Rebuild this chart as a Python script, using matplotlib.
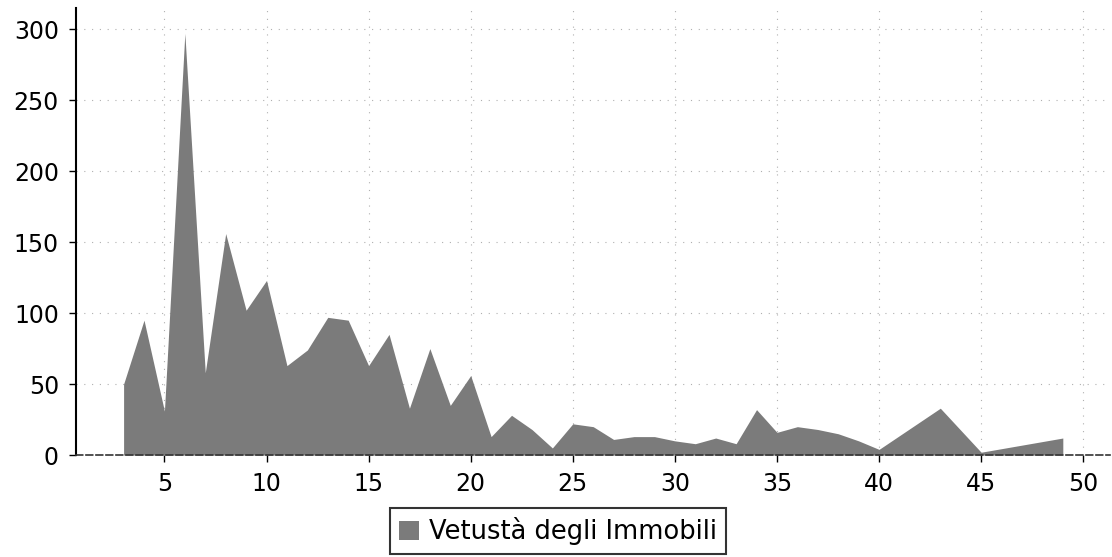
import matplotlib
matplotlib.use("Agg")
from matplotlib import pyplot as plt
from matplotlib.patches import Patch

# data (age of buildings -> count)
anni = [3, 4, 5, 6, 7, 8, 9, 10, 11, 12, 13, 14, 15, 16, 17, 18, 19, 20,
        21, 22, 23, 24, 25, 26, 27, 28, 29, 30, 31, 32, 33, 34, 35, 36, 37,
        38, 39, 40, 43, 45, 49]
conteggio = [50, 95, 31, 297, 58, 156, 102, 123, 63, 74, 97, 95, 63, 85, 33,
             75, 35, 56, 13, 28, 18, 5, 22, 20, 11, 13, 13, 10, 8, 12, 8, 32,
             16, 20, 18, 15, 10, 4, 33, 2, 12]
serie_label = "Vetustà degli Immobili"
xticks = list(range(5, 51, 5))
yticks = list(range(0, 301, 50))

FILL = "#7b7b7b"

plt.rcParams["font.family"] = "DejaVu Sans"

fig = plt.figure(figsize=(11.12, 5.57), dpi=100)
ax = fig.add_axes([0.068, 0.183, 0.93, 0.803])

ax.fill_between(anni, conteggio, 0, color=FILL, lw=0, zorder=2)

ax.set_xlim(0.65, 51.3)
ax.set_ylim(0, 315)
ax.set_xticks(xticks)
ax.set_yticks(yticks)
ax.grid(True, ls=(0, (1, 6)), color="#b0b0b0", lw=0.8, zorder=0)
ax.set_axisbelow(True)

for side in ("top", "right"):
    ax.spines[side].set_visible(False)
ax.spines["left"].set_linewidth(1.5)
ax.spines["bottom"].set_linestyle((0, (4, 2)))
ax.spines["bottom"].set_color("#333333")
ax.spines["bottom"].set_linewidth(1.2)
ax.tick_params(direction="out", length=5, width=1, colors="black",
               labelsize=17, pad=7)

leg = fig.legend(
    handles=[Patch(facecolor=FILL, edgecolor="none", label=serie_label)],
    loc="center",
    bbox_to_anchor=(0.502, 0.046),
    frameon=True,
    fancybox=False,
    fontsize=18.5,
    handlelength=0.75,
    handleheight=0.75,
    handletextpad=0.4,
    borderpad=0.35,
    borderaxespad=0,
)
leg.get_frame().set_edgecolor("black")
leg.get_frame().set_linewidth(1.5)

fig.savefig("out.png", dpi=100)
